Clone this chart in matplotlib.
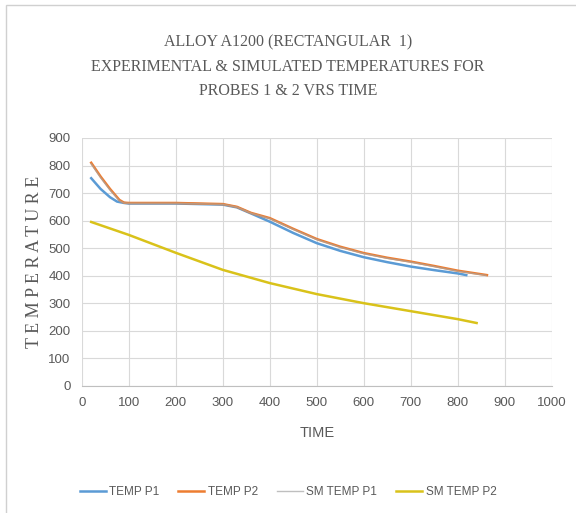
import matplotlib
matplotlib.use("Agg")
import matplotlib.pyplot as plt
from matplotlib.patches import Rectangle

temp_p1_t = [20, 40, 60, 75, 90, 100, 150, 200, 250, 300, 330, 360, 400, 450, 500, 550, 600, 650, 700, 750, 800, 818]
temp_p1_y = [754, 715, 685, 669, 664, 662, 662, 662, 660, 658, 648, 626, 596, 555, 518, 490, 467, 449, 433, 420, 408, 402]

temp_p2_t = [20, 40, 60, 80, 90, 100, 150, 200, 250, 300, 330, 360, 400, 450, 500, 550, 600, 650, 700, 750, 800, 862]
temp_p2_y = [810, 760, 715, 675, 665, 664, 664, 664, 662, 660, 650, 628, 609, 570, 533, 505, 482, 465, 451, 435, 418, 402]

sm_p1_t = [20, 40, 60, 80, 90, 100, 150, 200, 250, 300, 330, 360, 400, 450, 500, 550, 600, 650, 700, 750, 800, 860]
sm_p1_y = [806, 756, 711, 672, 664, 663, 663, 663, 661, 659, 649, 627, 607, 568, 531, 503, 480, 463, 449, 433, 416, 401]

sm_p2_t = [20, 100, 200, 300, 400, 500, 600, 700, 800, 840]
sm_p2_y = [595, 548, 483, 421, 373, 333, 300, 271, 242, 228]

x_ticks = list(range(0, 1001, 100))
y_ticks = list(range(0, 901, 100))

serif = ["Liberation Serif", "DejaVu Serif"]
sans = ["Liberation Sans", "DejaVu Sans"]
tick_color = "#595959"

fig = plt.figure(figsize=(5.76, 5.13), dpi=100)
ax = fig.add_axes([0.142, 0.248, 0.816, 0.483])

ax.plot(temp_p1_t, temp_p1_y, color="#5B9BD5", lw=1.8, label="TEMP P1")
ax.plot(temp_p2_t, temp_p2_y, color="#ED7D31", lw=1.8, label="TEMP P2")
ax.plot(sm_p1_t, sm_p1_y, color="#A5A5A5", lw=1.0, alpha=0.7, label="SM TEMP P1")
ax.plot(sm_p2_t, sm_p2_y, color="#D9C21A", lw=1.8, label="SM TEMP P2")

ax.set_xlim(0, 1000)
ax.set_ylim(0, 900)
ax.set_xticks(x_ticks)
ax.set_yticks(y_ticks)
ax.grid(True, color="#D9D9D9", lw=0.8)
ax.set_axisbelow(True)
for side in ["top", "right", "left"]:
    ax.spines[side].set_visible(False)
ax.spines["bottom"].set_color("#BFBFBF")
ax.tick_params(length=0, colors=tick_color, labelsize=9.5, pad=8)
for lbl in ax.get_xticklabels() + ax.get_yticklabels():
    lbl.set_family(sans)

ax.set_xlabel("TIME", family=sans, fontsize=10.5, color=tick_color, labelpad=12)
ax.set_ylabel("T E M P E R A T U R E", family=serif, fontsize=13, color=tick_color, labelpad=4)

fig.text(0.5, 0.918, "ALLOY A1200 (RECTANGULAR  1)", ha="center", va="center",
         family=serif, fontsize=11.5, color=tick_color)
fig.text(0.5, 0.870, "EXPERIMENTAL & SIMULATED TEMPERATURES FOR", ha="center", va="center",
         family=serif, fontsize=11.5, color=tick_color)
fig.text(0.5, 0.822, "PROBES 1 & 2 VRS TIME", ha="center", va="center",
         family=serif, fontsize=11.5, color=tick_color)

leg = fig.legend(loc="center", bbox_to_anchor=(0.5, 0.04), ncol=4, frameon=False,
                 handlelength=2.2, columnspacing=1.6, handletextpad=0.3,
                 prop={"family": sans, "size": 8.5})
for t in leg.get_texts():
    t.set_color(tick_color)

# rand van het grafiekgebied
fig.add_artist(Rectangle((0.01, -0.01), 1.0, 1.0, transform=fig.transFigure,
                         fill=False, edgecolor="#D0D0D0", lw=1.0))

fig.savefig("out.png", dpi=100)
